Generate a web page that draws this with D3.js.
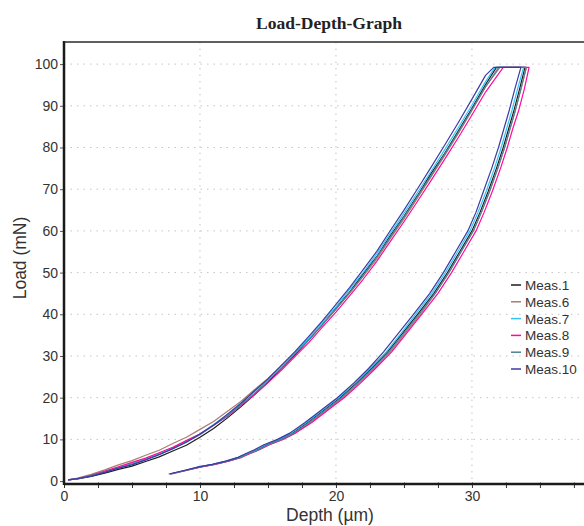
<!DOCTYPE html>
<meta charset="utf-8">
<style>
    body { margin: 0; background: white; }
    .tick-label { font: 14px "Liberation Sans", Arial, sans-serif; fill: #333; }
    .axis-title { font: 17.5px "Liberation Sans", Arial, sans-serif; fill: #333; }
    .legend text { font: 13.5px "Liberation Sans", Arial, sans-serif; fill: #333; }
    .grid { stroke: #c4c4c4; stroke-width: 1; stroke-dasharray: 1.5,5; }
    .curve { fill: none; stroke-width: 1.2px; stroke-linejoin: round; }
</style>

<body>
    <svg id="chart" width="584" height="526"></svg>
    <script src="https://d3js.org/d3.v7.min.js"></script>
    <script>

        // depth positions of the loading branch (µm)
        const loadDepth = [0.3, 1, 2, 3, 4, 5, 6, 7, 8, 9, 10, 11, 12, 13, 14, 15, 16, 17, 18, 19, 20,
            21, 22, 23, 24, 25, 26, 27, 28, 29, 30, 31];
        // load levels of the unloading branch (mN)
        const unloadLoad = [99.2, 94, 89, 84.5, 80, 75, 69.5, 64.5, 60, 55, 50, 45, 40, 35.5, 31, 27,
            23.5, 20, 17, 14, 11.5, 10.0, 8.7, 7.5, 6.5, 5.7, 4.8, 4.0, 3.4, 2.6, 1.7];
        const peakLoad = 99.2;

        const seriesNames = ["Meas.1", "Meas.6", "Meas.7", "Meas.8", "Meas.9", "Meas.10"];
        const seriesColors = ["#1c1c1c", "#a87e70", "#30c4f2", "#ff0a9c", "#4f8098", "#3b3aa6"];

        // loads along the loading branch
        const load1 = [0.3, 0.5, 1.1, 1.9, 2.8, 3.6, 4.7, 5.8, 7.2, 8.6, 10.5, 12.6, 15.1, 17.8, 20.7, 23.7,
            27.0, 30.3, 33.9, 37.5, 41.5, 45.3, 49.7, 53.8, 58.9, 63.5, 68.5, 73.8, 78.6, 84.0, 89.4, 95.1];
        const load6 = [0.3, 0.7, 1.6, 2.7, 3.9, 4.9, 6.2, 7.4, 9.0, 10.5, 12.4, 14.3, 16.7, 19.1, 21.9, 24.6,
            27.7, 30.7, 34.1, 37.5, 41.3, 45.0, 49.1, 53.3, 58.2, 62.9, 67.9, 73.0, 78.1, 83.4, 88.9, 94.5];
        const load7 = [0.3, 0.6, 1.3, 2.3, 3.2, 4.3, 5.3, 6.6, 8.0, 9.7, 11.3, 13.6, 15.9, 18.7, 21.5, 24.4,
            27.5, 30.9, 34.3, 38.1, 41.8, 46.0, 50.0, 54.5, 59.4, 64.2, 69.2, 74.3, 79.5, 84.8, 90.2, 95.8];
        const load8 = [0.3, 0.6, 1.4, 2.4, 3.4, 4.5, 5.5, 6.8, 8.1, 9.7, 11.3, 13.4, 15.5, 18.1, 20.7, 23.6,
            26.6, 29.9, 33.2, 36.9, 40.5, 44.4, 48.4, 52.7, 57.5, 62.2, 67.1, 72.1, 77.2, 82.4, 87.8, 93.3];
        const load9 = [0.3, 0.6, 1.3, 2.2, 3.1, 4.1, 5.1, 6.4, 7.7, 9.4, 11.1, 13.4, 15.6, 18.3, 21.0, 24.1,
            27.1, 30.5, 33.8, 37.5, 41.2, 45.2, 49.3, 53.7, 58.5, 63.3, 68.3, 73.3, 78.4, 83.7, 89.1, 94.6];
        const load10 = [0.3, 0.6, 1.2, 2.1, 3.1, 3.9, 5.1, 6.3, 7.8, 9.3, 11.3, 13.4, 16.0, 18.6, 21.6, 24.5,
            27.8, 31.1, 34.7, 38.4, 42.4, 46.4, 50.7, 55.1, 60.1, 65.0, 70.1, 75.3, 80.6, 86.0, 91.6, 97.3];

        // depth where the hold at max load starts
        const holdStart = [31.8, 31.95, 31.7, 32.3, 32.05, 31.6];

        // depths along the unloading branch
        const unload1 = [33.9, 33.5, 33.1, 32.7, 32.3, 31.8, 31.2, 30.6, 30.0, 29.1, 28.2, 27.2, 26.0, 24.9,
            23.8, 22.6, 21.5, 20.3, 19.1, 17.9, 16.8, 15.9, 14.9, 14.2, 13.5, 12.9, 12.0, 11.0, 10.0, 9.0, 7.8];
        const unload6 = [34.0, 33.6, 33.2, 32.8, 32.4, 31.9, 31.3, 30.7, 30.1, 29.2, 28.3, 27.3, 26.2, 25.1,
            24.0, 22.8, 21.7, 20.5, 19.3, 18.1, 17.0, 16.1, 15.1, 14.4, 13.6, 13.1, 12.1, 11.1, 10.1, 9.1, 7.9];
        const unload7 = [33.8, 33.35, 32.95, 32.55, 32.15, 31.65, 31.05, 30.45, 29.85, 28.95, 28.05, 27.05, 25.85, 24.8,
            23.7, 22.5, 21.4, 20.2, 19.0, 17.8, 16.7, 15.8, 14.8, 14.1, 13.4, 12.8, 11.9, 10.9, 9.9, 8.9, 7.8];
        const unload8 = [34.2, 33.85, 33.45, 33.0, 32.6, 32.1, 31.5, 30.9, 30.3, 29.4, 28.5, 27.5, 26.3, 25.2,
            24.1, 22.9, 21.8, 20.6, 19.4, 18.2, 17.0, 16.1, 15.1, 14.3, 13.6, 13.0, 12.1, 11.1, 10.1, 9.0, 7.8];
        const unload9 = [34.0, 33.6, 33.2, 32.8, 32.4, 31.9, 31.3, 30.7, 30.1, 29.2, 28.3, 27.3, 26.1, 25.0,
            23.9, 22.7, 21.6, 20.4, 19.2, 18.0, 16.9, 16.0, 15.0, 14.3, 13.5, 13.0, 12.0, 11.0, 10.0, 9.0, 7.9];
        const unload10 = [33.6, 33.15, 32.75, 32.35, 31.95, 31.45, 30.85, 30.3, 29.7, 28.8, 27.9, 26.9, 25.7, 24.6,
            23.5, 22.4, 21.3, 20.1, 18.9, 17.7, 16.6, 15.7, 14.7, 14.0, 13.3, 12.8, 11.9, 10.9, 9.9, 8.9, 7.7];

        const loads = [load1, load6, load7, load8, load9, load10];
        const unloads = [unload1, unload6, unload7, unload8, unload9, unload10];

        const xTicks = [0, 10, 20, 30];
        const yTicks = [0, 10, 20, 30, 40, 50, 60, 70, 80, 90, 100];

        const plotLeft = 64, plotRight = 584, plotTop = 42, plotBottom = 484;

        const svg = d3.select("#chart");

        const x = d3.scaleLinear().domain([0, 38.24]).range([plotLeft, plotRight]);
        const y = d3.scaleLinear().domain([-0.7, 105.3]).range([plotBottom, plotTop]);

        // grid
        svg.append("g").selectAll("line.gx")
            .data(xTicks.filter(d => d > 0))
            .enter().append("line")
            .attr("class", "grid")
            .attr("x1", d => x(d)).attr("x2", d => x(d))
            .attr("y1", plotTop).attr("y2", plotBottom);
        svg.append("g").selectAll("line.gy")
            .data(yTicks.filter(d => d > 0))
            .enter().append("line")
            .attr("class", "grid")
            .attr("x1", plotLeft).attr("x2", plotRight)
            .attr("y1", d => y(d)).attr("y2", d => y(d));

        // curves
        svg.append("clipPath").attr("id", "clip")
            .append("rect").attr("x", plotLeft).attr("y", plotTop)
            .attr("width", plotRight - plotLeft).attr("height", plotBottom - plotTop);

        const line = d3.line().x(d => x(d[0])).y(d => y(d[1]));

        const curves = seriesNames.map((name, i) => {
            const pts = loadDepth.map((d, k) => [d, loads[i][k]]);
            pts.push([holdStart[i], peakLoad]);
            unloads[i].forEach((d, k) => pts.push([d, unloadLoad[k]]));
            return { name: name, color: seriesColors[i], points: pts };
        });

        svg.append("g").attr("clip-path", "url(#clip)")
            .selectAll("path")
            .data(curves)
            .enter().append("path")
            .attr("class", "curve")
            .attr("stroke", d => d.color)
            .attr("d", d => line(d.points));

        // axes
        const yAxis = d3.axisLeft(y).tickValues(yTicks).tickSize(4).tickPadding(2);
        const gy = svg.append("g").attr("transform", `translate(${plotLeft},0)`).call(yAxis);
        gy.select(".domain").remove();
        gy.selectAll(".tick line").attr("stroke", "#555");
        gy.selectAll(".tick text").attr("class", "tick-label").attr("font-size", null).attr("font-family", null);

        const xMinor = d3.range(0, 38.24, 2.5);
        const xAxis = d3.axisBottom(x).tickValues(xMinor).tickSize(4)
            .tickFormat(d => xTicks.includes(d) ? d : "").tickPadding(3);
        const gx = svg.append("g").attr("transform", `translate(0,${plotBottom})`).call(xAxis);
        gx.select(".domain").remove();
        gx.selectAll(".tick line").attr("stroke", "#333").attr("y1", -1.5);
        gx.selectAll(".tick text").attr("class", "tick-label").attr("font-size", null).attr("font-family", null);

        svg.append("line").attr("x1", plotLeft).attr("x2", plotRight).attr("y1", plotBottom).attr("y2", plotBottom)
            .attr("stroke", "#1a1a1a").attr("stroke-width", 2.5);
        svg.append("line").attr("x1", plotLeft).attr("x2", plotLeft).attr("y1", plotTop - 1).attr("y2", plotBottom + 1)
            .attr("stroke", "#1a1a1a").attr("stroke-width", 2.5);
        svg.append("line").attr("x1", plotLeft).attr("x2", plotRight).attr("y1", plotTop).attr("y2", plotTop)
            .attr("stroke", "#2a2a2a").attr("stroke-width", 1.5);

        // titles
        svg.append("text").attr("x", 329).attr("y", 29)
            .attr("text-anchor", "middle")
            .style("font", "bold 17.5px 'Liberation Serif', 'Times New Roman', serif")
            .style("fill", "#222")
            .text("Load-Depth-Graph");
        svg.append("text").attr("class", "axis-title")
            .attr("x", 330).attr("y", 521).attr("text-anchor", "middle")
            .text("Depth (µm)");
        svg.append("text").attr("class", "axis-title")
            .attr("transform", "translate(26,258) rotate(-90)").attr("text-anchor", "middle")
            .text("Load (mN)");

        // legend
        const legend = svg.append("g").attr("class", "legend");
        const items = legend.selectAll("g").data(curves).enter().append("g")
            .attr("transform", (d, i) => `translate(511,${285 + i * 16.8})`);
        items.append("line").attr("x1", 0).attr("x2", 10).attr("y1", 0).attr("y2", 0)
            .attr("stroke", d => d.color).attr("stroke-width", 1.5);
        items.append("text").attr("x", 14).attr("y", 5).text(d => d.name);

    </script>
</body>

</html>
